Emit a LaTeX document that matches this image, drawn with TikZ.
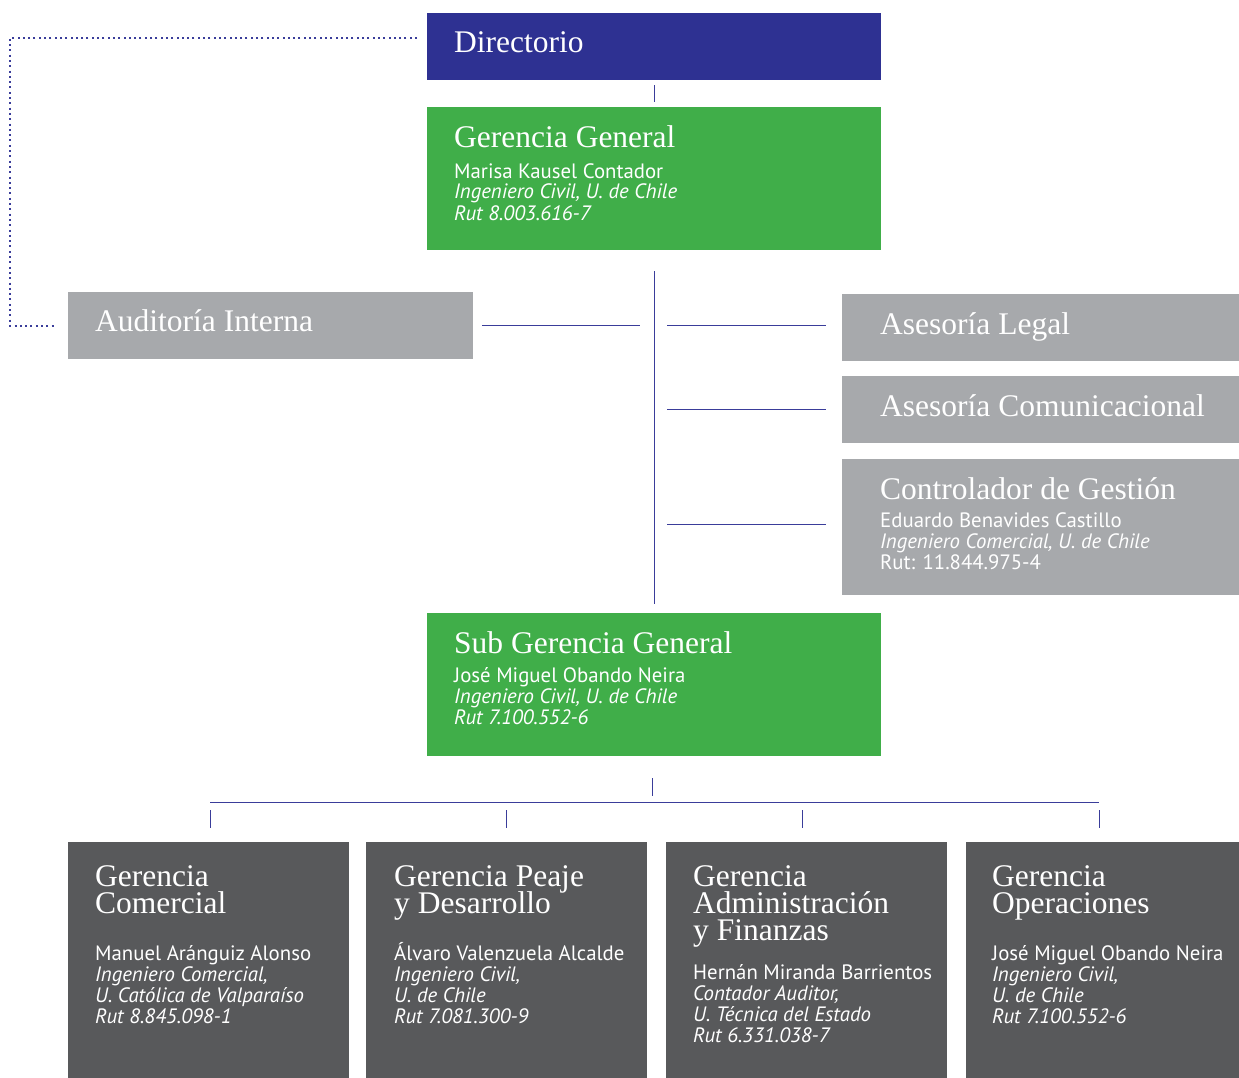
\documentclass[tikz,border=0pt]{standalone}
\usepackage{fontspec}
\setmainfont{Liberation Serif}
\setsansfont{PT Sans}
\usetikzlibrary{calc}

\definecolor{dirblue}{HTML}{2E3192}
\definecolor{mgreen}{HTML}{40AE49}
\definecolor{lgray}{HTML}{A7A9AC}
\definecolor{dgray}{HTML}{58595B}
\definecolor{linkblue}{HTML}{3A3D9A}

\tikzset{
  unit/.style={rectangle, inner sep=0pt, anchor=north west},
  % multi-line texts sit on the baseline of their last line
  title/.style={inner sep=0pt, anchor=base west, align=left, text=white,
    font=\fontsize{31.5}{27}\selectfont,
    execute at begin node={\lineskiplimit=-30pt\relax}},
  info/.style={inner sep=0pt, anchor=base west, align=left, text=white,
    font=\sffamily\fontsize{20.8}{21}\selectfont},
  link/.style={draw=linkblue, line width=1.2pt},
  audit/.style={draw=linkblue, line width=2pt, dash pattern=on 2pt off 3.3pt},
}

\begin{document}
\begin{tikzpicture}[x=1pt,y=-1pt]
  \useasboundingbox (0,0) rectangle (1239,1078);

  % top
  \node[unit, fill=dirblue, minimum width=454pt, minimum height=67pt] (dir) at (427,13) {};
  \node[title] (dir-t) at ([shift={(27,40)}]dir.north west) {Directorio};

  \node[unit, fill=mgreen, minimum width=454pt, minimum height=143pt] (gg) at (427,107) {};
  \node[title] (gg-t) at ([shift={(27,41)}]gg.north west) {Gerencia General};
  \node[info] (gg-i) at ([shift={(27,113)}]gg.north west)
    {Marisa Kausel Contador\\ \textit{Ingeniero Civil, U. de Chile}\\ \textit{Rut 8.003.616-7}};

  % staff
  \node[unit, fill=lgray, minimum width=405pt, minimum height=67pt] (aud) at (68,292) {};
  \node[title] (aud-t) at ([shift={(27,39)}]aud.north west) {Auditoría Interna};

  \node[unit, fill=lgray, minimum width=397pt, minimum height=67pt] (leg) at (842,294) {};
  \node[title] (leg-t) at ([shift={(38,40)}]leg.north west) {Asesoría Legal};

  \node[unit, fill=lgray, minimum width=397pt, minimum height=67pt] (com) at (842,376) {};
  \node[title] (com-t) at ([shift={(38,40)}]com.north west) {Asesoría Comunicacional};

  \node[unit, fill=lgray, minimum width=397pt, minimum height=136pt] (ctl) at (842,459) {};
  \node[title] (ctl-t) at ([shift={(38,40)}]ctl.north west) {Controlador de Gestión};
  \node[info] (ctl-i) at ([shift={(38,110)}]ctl.north west)
    {Eduardo Benavides Castillo\\ \textit{Ingeniero Comercial, U. de Chile}\\ Rut: 11.844.975-4};

  \node[unit, fill=mgreen, minimum width=454pt, minimum height=143pt] (sgg) at (427,613) {};
  \node[title] (sgg-t) at ([shift={(27,40)}]sgg.north west) {Sub Gerencia General};
  \node[info] (sgg-i) at ([shift={(27,111)}]sgg.north west)
    {José Miguel Obando Neira\\ \textit{Ingeniero Civil, U. de Chile}\\ \textit{Rut 7.100.552-6}};

  % gerencias
  \node[unit, fill=dgray, minimum width=281pt, minimum height=236pt] (gc) at (68,842) {};
  \node[title] (gc-t) at ([shift={(27,71)}]gc.north west) {Gerencia\\ Comercial};
  \node[info] (gc-i) at ([shift={(27,181)}]gc.north west)
    {Manuel Aránguiz Alonso\\ \textit{Ingeniero Comercial,}\\ \textit{U. Católica de Valparaíso}\\ \textit{Rut 8.845.098-1}};

  \node[unit, fill=dgray, minimum width=281pt, minimum height=236pt] (gp) at (366,842) {};
  \node[title] (gp-t) at ([shift={(28,71)}]gp.north west) {Gerencia Peaje\\ y Desarrollo};
  \node[info] (gp-i) at ([shift={(28,181)}]gp.north west)
    {Álvaro Valenzuela Alcalde\\ \textit{Ingeniero Civil,}\\ \textit{U. de Chile}\\ \textit{Rut 7.081.300-9}};

  \node[unit, fill=dgray, minimum width=281pt, minimum height=236pt] (ga) at (666,842) {};
  \node[title] (ga-t) at ([shift={(27,98)}]ga.north west) {Gerencia\\ Administración\\ y Finanzas};
  \node[info] (ga-i) at ([shift={(27,200)}]ga.north west)
    {Hernán Miranda Barrientos\\ \textit{Contador Auditor,}\\ \textit{U. Técnica del Estado}\\ \textit{Rut 6.331.038-7}};

  \node[unit, fill=dgray, minimum width=273pt, minimum height=236pt] (go) at (966,842) {};
  \node[title] (go-t) at ([shift={(26,71)}]go.north west) {Gerencia\\ Operaciones};
  \node[info] (go-i) at ([shift={(26,181)}]go.north west)
    {José Miguel Obando Neira\\ \textit{Ingeniero Civil,}\\ \textit{U. de Chile}\\ \textit{Rut 7.100.552-6}};

  % connectors
  \draw[link, shorten <=5pt, shorten >=5pt] (dir.south) -- (gg.north);
  \draw[link, shorten <=21pt, shorten >=9pt] (gg.south) -- (sgg.north);
  \draw[link, shorten <=9pt, shorten >=14pt] (aud.east) -- (aud.east -| gg.south);
  \draw[link, shorten <=13pt, shorten >=16pt] ([yshift=2pt]leg.west -| gg.south) -- ([yshift=2pt]leg.west);
  \draw[link, shorten <=13pt, shorten >=16pt] (com.west -| gg.south) -- (com.west);
  \draw[link, shorten <=13pt, shorten >=16pt] ([yshift=3pt]ctl.west -| gg.south) -- ([yshift=3pt]ctl.west);
  \draw[audit] ([shift={(-10,-9)}]dir.west) -| ([xshift=-58pt]aud.west) -- ([xshift=-13pt]aud.west);

  \coordinate (bus) at ([yshift=-46pt]sgg.south);
  \draw[link, shorten <=22pt, shorten >=6pt] ([xshift=-2pt]sgg.south) -- ([xshift=-2pt]bus);
  \draw[link] ([xshift=1.5pt]bus -| gc.north) -- ([xshift=-3.5pt]bus -| go.north);
  \foreach \g/\dx in {gc/1.5,gp/0,ga/-4.5,go/-3.5}
    \draw[link, shorten <=8pt, shorten >=14pt] ([xshift=\dx pt]bus -| \g.north) -- ([xshift=\dx pt]\g.north);
\end{tikzpicture}
\end{document}
